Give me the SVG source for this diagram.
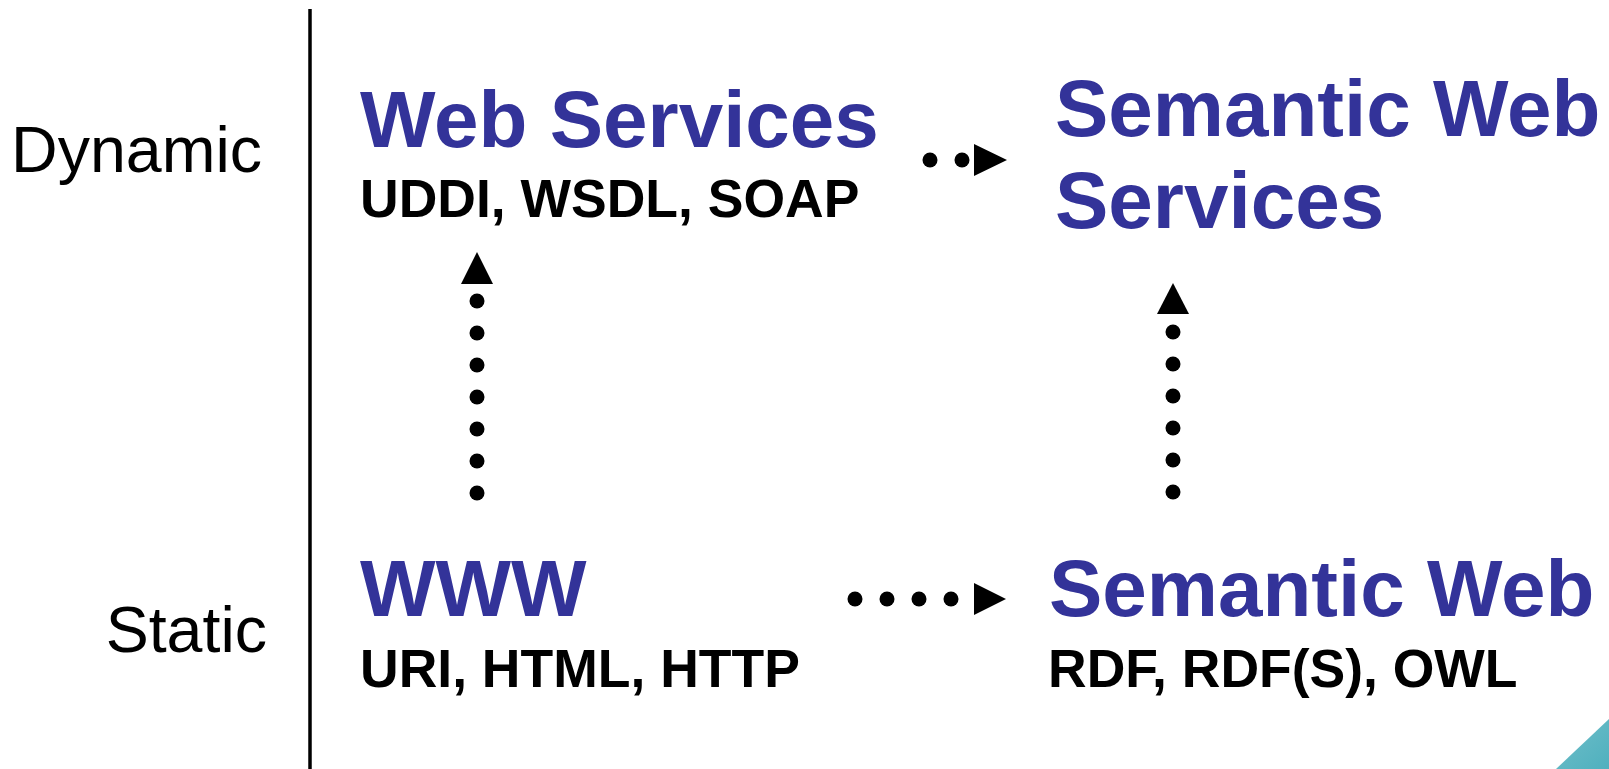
<svg xmlns="http://www.w3.org/2000/svg" width="1609" height="769" viewBox="0 0 1609 769">
<style>
.side{font-family:"Liberation Sans",Arial,sans-serif;font-size:64.5px;fill:#000}
.title{font-family:"Liberation Sans",Arial,sans-serif;font-size:80px;font-weight:bold;fill:#333399}
.sub{font-family:"Liberation Sans",Arial,sans-serif;font-size:53.5px;font-weight:bold;fill:#000}
.dot{fill:#000}
.head{fill:#000}
</style>
<defs>
<linearGradient id="teal" x1="0" y1="0" x2="1" y2="1">
<stop offset="0" stop-color="#d8eef1"/>
<stop offset="0.12" stop-color="#6cbdc8"/>
<stop offset="1" stop-color="#4fb0be"/>
</linearGradient>
</defs>
<rect width="1609" height="769" fill="#fff"/>
<line x1="310" y1="9" x2="310" y2="769" stroke="#000" stroke-width="3.5"/>
<text class="side" x="262" y="172" text-anchor="end">Dynamic</text>
<text class="side" x="267" y="652" text-anchor="end">Static</text>
<g id="web-services">
<text class="title" x="360" y="147">Web Services</text>
<text class="sub" x="360" y="217">UDDI, WSDL, SOAP</text>
</g>
<g id="semantic-web-services">
<text class="title" x="1055" y="136">Semantic Web</text>
<text class="title" x="1055" y="228">Services</text>
</g>
<g id="www">
<text class="title" x="360" y="616">WWW</text>
<text class="sub" x="360" y="687">URI, HTML, HTTP</text>
</g>
<g id="semantic-web">
<text class="title" x="1049" y="616">Semantic Web</text>
<text class="sub" x="1048" y="687">RDF, RDF(S), OWL</text>
</g>
<g id="connectors">
<g id="ws-to-sws">
<circle class="dot" cx="930" cy="160" r="7.5"/>
<circle class="dot" cx="962" cy="160" r="7.5"/>
<polygon class="head" points="974,144 1007,160 974,176"/>
</g>
<g id="www-to-sw">
<circle class="dot" cx="855" cy="599" r="7.5"/>
<circle class="dot" cx="887" cy="599" r="7.5"/>
<circle class="dot" cx="919" cy="599" r="7.5"/>
<circle class="dot" cx="951" cy="599" r="7.5"/>
<polygon class="head" points="974,583 1006,599 974,615"/>
</g>
<g id="www-to-ws">
<circle class="dot" cx="477" cy="301" r="7.5"/>
<circle class="dot" cx="477" cy="333" r="7.5"/>
<circle class="dot" cx="477" cy="365" r="7.5"/>
<circle class="dot" cx="477" cy="397" r="7.5"/>
<circle class="dot" cx="477" cy="429" r="7.5"/>
<circle class="dot" cx="477" cy="461" r="7.5"/>
<circle class="dot" cx="477" cy="493" r="7.5"/>
<polygon class="head" points="477,252 493,284 461,284"/>
</g>
<g id="sw-to-sws">
<circle class="dot" cx="1173" cy="332" r="7.5"/>
<circle class="dot" cx="1173" cy="364" r="7.5"/>
<circle class="dot" cx="1173" cy="396" r="7.5"/>
<circle class="dot" cx="1173" cy="428" r="7.5"/>
<circle class="dot" cx="1173" cy="460" r="7.5"/>
<circle class="dot" cx="1173" cy="492" r="7.5"/>
<polygon class="head" points="1173,283 1189,314 1157,314"/>
</g>
</g>
<polygon points="1556,769 1609,719 1609,769" fill="url(#teal)"/>
</svg>
